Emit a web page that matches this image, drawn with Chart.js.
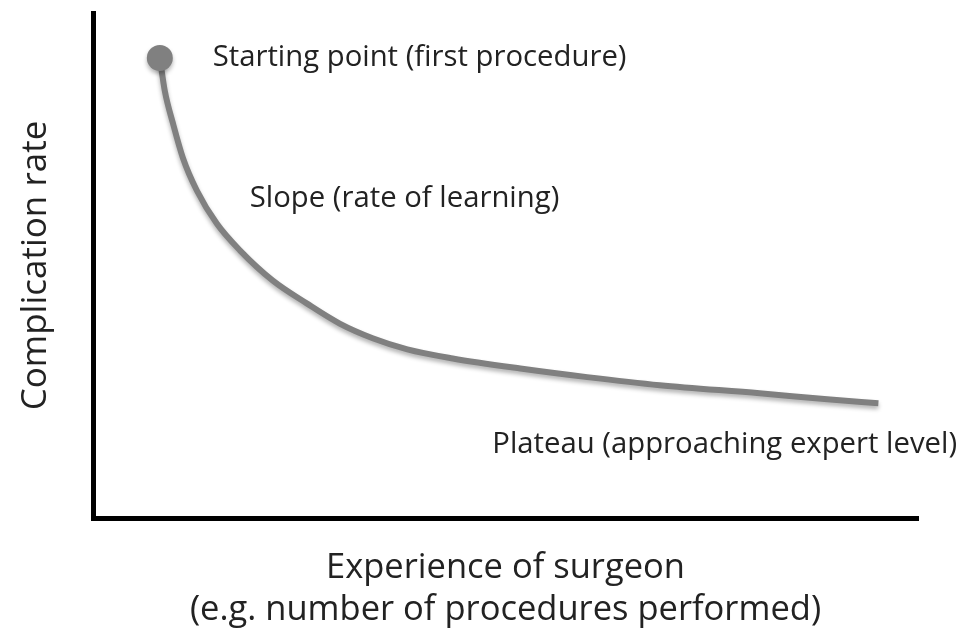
<!DOCTYPE html>
<html lang="en">
<head>
    <meta charset="UTF-8">
    <title>Learning curve</title>
    <style>
        html, body {
            margin: 0;
            padding: 0;
            background: #fff;
        }
        .wrap {
            width: 964px;
            height: 642px;
        }
    </style>
</head>
<body>
    <div class="wrap">
        <canvas id="curveChart" width="964" height="642"></canvas>
    </div>

    <script src="https://cdn.jsdelivr.net/npm/chart.js"></script>
    <script>
        // Curve (x: experience, y: complication rate, both 0-100)
        const experience = [8.1, 8.7, 9.7, 10.9, 12.6, 15.0, 17.8, 21.8, 25.9, 29.9, 33.9, 38.1, 43.6, 51.8, 59.9, 68.7, 80.8, 89.0, 95.2];
        const complicationRate = [91.1, 84.6, 78.1, 71.3, 64.8, 58.3, 53.0, 47.0, 42.5, 38.5, 35.6, 33.4, 31.6, 29.6, 27.9, 26.3, 24.7, 23.5, 22.7];

        // Annotation texts and where they sit (data units, left edge / baseline)
        const noteTexts = ['Starting point (first procedure)', 'Slope (rate of learning)', 'Plateau (approaching expert level)'];
        const noteX = [14.5, 19.0, 48.4];
        const noteY = [89.5, 61.5, 12.8];

        const xTitle = ['Experience of surgeon', '(e.g. number of procedures performed)'];
        const yTitle = 'Complication rate';

        const fontFamily = '"Open Sans", "Noto Sans", sans-serif';
        const textColor = '#222';
        const curveColor = '#808080';

        const points = experience.map((x, i) => ({ x: x, y: complicationRate[i] }));

        // soft shadow under the curve
        const shadowPlugin = {
            id: 'curveShadow',
            beforeDatasetDraw(chart) {
                const ctx = chart.ctx;
                ctx.save();
                ctx.shadowColor = 'rgba(0, 0, 0, 0.3)';
                ctx.shadowBlur = 4;
                ctx.shadowOffsetY = 3;
            },
            afterDatasetDraw(chart) {
                chart.ctx.restore();
            }
        };

        // text notes placed through the scales
        const notesPlugin = {
            id: 'notes',
            afterDraw(chart) {
                const ctx = chart.ctx;
                const xs = chart.scales.x;
                const ys = chart.scales.y;
                ctx.save();
                ctx.fillStyle = textColor;
                ctx.font = '29.3px ' + fontFamily;
                ctx.textAlign = 'left';
                ctx.textBaseline = 'alphabetic';
                noteTexts.forEach((t, i) => {
                    ctx.fillText(t, xs.getPixelForValue(noteX[i]), ys.getPixelForValue(noteY[i]));
                });
                ctx.restore();
            }
        };

        new Chart(document.getElementById('curveChart'), {
            type: 'line',
            data: {
                datasets: [{
                    data: points,
                    borderColor: curveColor,
                    borderWidth: 6,
                    cubicInterpolationMode: 'monotone',
                    pointRadius: ctx => ctx.dataIndex === 0 ? 13 : 0,
                    pointBackgroundColor: curveColor,
                    pointBorderWidth: 0,
                    fill: false
                }]
            },
            options: {
                responsive: false,
                animation: false,
                layout: {
                    padding: { top: 12, right: 46, left: 0, bottom: 0 }
                },
                plugins: {
                    legend: { display: false },
                    tooltip: { enabled: false }
                },
                scales: {
                    x: {
                        type: 'linear',
                        min: 0,
                        max: 100,
                        grid: { display: false, drawTicks: false },
                        border: { display: true, color: '#000', width: 5 },
                        ticks: { display: false },
                        title: {
                            display: true,
                            text: xTitle,
                            color: textColor,
                            font: { family: fontFamily, size: 34.5, lineHeight: 1.22 },
                            padding: { top: 0, bottom: 11 }
                        },
                        afterFit: s => { s.height = 124; }
                    },
                    y: {
                        type: 'linear',
                        min: 0,
                        max: 100,
                        grid: { display: false, drawTicks: false },
                        border: { display: true, color: '#000', width: 5 },
                        ticks: { display: false },
                        title: {
                            display: true,
                            text: yTitle,
                            color: textColor,
                            font: { family: fontFamily, size: 35, lineHeight: 1.2 },
                            padding: { top: 15, bottom: 0 }
                        },
                        afterFit: s => { s.width = 93; }
                    }
                }
            },
            plugins: [shadowPlugin, notesPlugin]
        });
    </script>
</body>
</html>
